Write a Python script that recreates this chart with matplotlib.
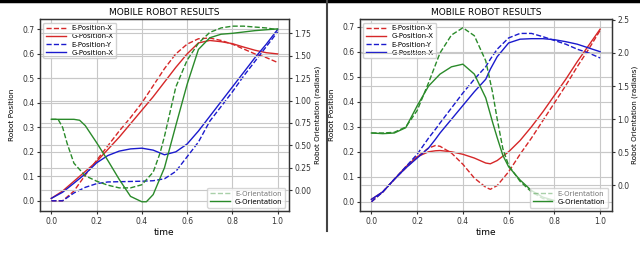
import matplotlib.pyplot as plt
from matplotlib.lines import Line2D

# ---- left panel data ----
L_t = [0.0, 0.05, 0.1, 0.15, 0.2, 0.25, 0.3, 0.35, 0.4, 0.45, 0.5,
       0.55, 0.6, 0.65, 0.7, 0.75, 0.8, 0.85, 0.9, 0.95, 1.0]
L_ex = [0.0, 0.0, 0.04, 0.105, 0.165, 0.225, 0.285, 0.34, 0.40, 0.47, 0.54,
        0.60, 0.64, 0.662, 0.665, 0.655, 0.64, 0.62, 0.60, 0.585, 0.565]
L_gx = [0.01, 0.04, 0.08, 0.12, 0.16, 0.21, 0.26, 0.315, 0.37, 0.425, 0.485,
        0.545, 0.60, 0.645, 0.655, 0.65, 0.642, 0.628, 0.615, 0.605, 0.60]
L_ey = [0.0, 0.0, 0.032, 0.055, 0.07, 0.077, 0.078, 0.079, 0.08, 0.082, 0.09,
        0.12, 0.18, 0.24, 0.325, 0.385, 0.445, 0.51, 0.57, 0.63, 0.69]
L_gy = [0.01, 0.035, 0.072, 0.11, 0.155, 0.185, 0.203, 0.212, 0.215, 0.207, 0.188,
        0.20, 0.232, 0.285, 0.345, 0.405, 0.465, 0.525, 0.585, 0.64, 0.70]

L_t_eo = [0.0, 0.03, 0.05, 0.07, 0.1, 0.15, 0.2, 0.25, 0.3, 0.35, 0.4, 0.45,
          0.48, 0.5, 0.52, 0.55, 0.6, 0.65, 0.7, 0.75, 0.8, 0.85, 0.9, 0.95, 1.0]
L_eo = [0.79, 0.79, 0.70, 0.52, 0.30, 0.16, 0.10, 0.055, 0.025, 0.025, 0.06, 0.2,
        0.41, 0.6, 0.82, 1.15, 1.45, 1.64, 1.76, 1.81, 1.83, 1.83, 1.82, 1.81, 1.79]
L_t_go = [0.0, 0.05, 0.1, 0.125, 0.15, 0.2, 0.25, 0.3, 0.35, 0.4, 0.42, 0.45, 0.5,
          0.55, 0.6, 0.65, 0.7, 0.75, 0.8, 0.85, 0.9, 0.95, 1.0]
L_go = [0.79, 0.79, 0.79, 0.78, 0.72, 0.53, 0.33, 0.12, -0.07, -0.13, -0.13, -0.05, 0.25,
        0.72, 1.18, 1.57, 1.70, 1.74, 1.75, 1.765, 1.78, 1.79, 1.80]

# ---- right panel data ----
R_t = [0.0, 0.05, 0.1, 0.15, 0.2, 0.25, 0.28, 0.3, 0.35, 0.4, 0.45, 0.5, 0.52,
       0.55, 0.6, 0.65, 0.7, 0.75, 0.8, 0.85, 0.9, 0.95, 1.0]
R_ex = [0.0, 0.04, 0.09, 0.135, 0.18, 0.215, 0.225, 0.222, 0.195, 0.15, 0.095, 0.058, 0.05,
        0.065, 0.12, 0.19, 0.255, 0.325, 0.395, 0.465, 0.54, 0.61, 0.685]
R_gx = [0.01, 0.04, 0.09, 0.14, 0.18, 0.2, 0.204, 0.205, 0.2, 0.19, 0.175, 0.155, 0.152,
        0.165, 0.2, 0.245, 0.3, 0.36, 0.425, 0.49, 0.56, 0.625, 0.69]
R_ey = [0.0, 0.04, 0.09, 0.14, 0.19, 0.255, 0.29, 0.315, 0.375, 0.435, 0.49, 0.54, 0.57,
        0.61, 0.655, 0.673, 0.673, 0.66, 0.645, 0.63, 0.61, 0.595, 0.575]
R_gy = [0.01, 0.04, 0.09, 0.135, 0.175, 0.215, 0.25, 0.275, 0.33, 0.385, 0.44, 0.49, 0.53,
        0.58, 0.635, 0.65, 0.652, 0.652, 0.648, 0.64, 0.63, 0.615, 0.60]

R_t_o = [0.0, 0.05, 0.1, 0.15, 0.2, 0.25, 0.3, 0.35, 0.4, 0.45, 0.5, 0.53,
         0.55, 0.575, 0.6, 0.65, 0.7, 0.75, 0.8]
R_eo = [0.79, 0.79, 0.80, 0.88, 1.13, 1.55, 2.0, 2.27, 2.38, 2.26, 1.88, 1.4,
        1.0, 0.55, 0.3, 0.06, -0.1, -0.2, -0.24]
R_go = [0.79, 0.78, 0.79, 0.87, 1.2, 1.5, 1.68, 1.79, 1.83, 1.68, 1.32, 0.95,
        0.72, 0.45, 0.28, 0.08, -0.08, -0.18, -0.23]

x_ticks = [0.0, 0.2, 0.4, 0.6, 0.8, 1.0]
L_right_ticks = [0.0, 0.25, 0.5, 0.75, 1.0, 1.25, 1.5, 1.75]
R_right_ticks = [0.0, 0.5, 1.0, 1.5, 2.0, 2.5]
pos_ticks = [0.0, 0.1, 0.2, 0.3, 0.4, 0.5, 0.6, 0.7]

RED = '#d62728'
BLUE = '#1a1acd'
GREEN = '#2a8a2a'
FS = 5.5

plt.rcParams['font.family'] = 'DejaVu Sans'
fig = plt.figure(figsize=(6.4, 2.59), dpi=100)


def panel(rect, t, ex, gx, ey, gy, t_eo, eo, t_go, go, ylim, ylim2, rticks, rfmt):
    ax = fig.add_axes(rect)
    ax.plot(t, ex, '--', color=RED, lw=1, label='E-Position-X')
    ax.plot(t, gx, '-', color=RED, lw=1, label='G-Position-X')
    ax.plot(t, ey, '--', color=BLUE, lw=1, label='E-Position-Y')
    ax.plot(t, gy, '-', color=BLUE, lw=1, label='G-Position-X')
    ax.set_xlim(-0.05, 1.05)
    ax.set_ylim(*ylim)
    ax.set_xticks(x_ticks)
    ax.set_yticks(pos_ticks)
    ax.grid(True, color='#c8c8c8', lw=0.8)
    ax.set_xlabel('time', fontsize=6.5, labelpad=2)
    ax.set_ylabel('Robot Position', fontsize=5.3, labelpad=5)
    ax.set_title('MOBILE ROBOT RESULTS', fontsize=6.5, pad=3)
    ax.tick_params(labelsize=FS, length=2, pad=2, colors='#333333')
    leg = ax.legend(loc='upper left', fontsize=5, handlelength=2.8, labelspacing=0.3,
                    borderpad=0.4, framealpha=0.9)
    leg.set_zorder(5)

    ax2 = ax.twinx()
    ax2.plot(t_eo, eo, '--', color=GREEN, lw=1, label='E-Orientation')
    ax2.plot(t_go, go, '-', color=GREEN, lw=1, label='G-Orientation')
    ax2.set_ylim(*ylim2)
    ax2.set_yticks(rticks)
    ax2.set_yticklabels([rfmt.format(v) for v in rticks])
    ax2.grid(True, color='#c8c8c8', lw=0.8)
    ax2.set_ylabel('Robot Orientation (radians)', fontsize=5.2, labelpad=2)
    ax2.tick_params(labelsize=FS, length=2, pad=2, colors='#333333')
    leg2 = ax2.legend(loc='lower right', fontsize=5, handlelength=2.8, labelspacing=0.3,
                      borderpad=0.4, framealpha=0.8)
    leg2.get_texts()[0].set_color('#777777')
    leg2.get_lines()[0].set_alpha(0.4)
    for a in (ax, ax2):
        for s in a.spines.values():
            s.set_color('#333333')
            s.set_linewidth(0.9)
    return ax, ax2


panel([0.0625, 0.185, 0.389, 0.741], L_t, L_ex, L_gx, L_ey, L_gy,
      L_t_eo, L_eo, L_t_go, L_go, (-0.042, 0.742), (-0.234, 1.908),
      L_right_ticks, '{:.2f}')
panel([0.5625, 0.185, 0.393, 0.741], R_t, R_ex, R_gx, R_ey, R_gy,
      R_t_o, R_eo, R_t_o, R_go, (-0.037, 0.73), (-0.39, 2.51),
      R_right_ticks, '{:.1f}')

# screenshot frame lines
fig.add_artist(Line2D([0, 1], [0.995, 0.995], transform=fig.transFigure,
                      color='black', lw=2.5))
fig.add_artist(Line2D([0.511, 0.511], [1.0, 0.11], transform=fig.transFigure,
                      color='#444444', lw=1.5))

fig.savefig('out.png', dpi=100)
